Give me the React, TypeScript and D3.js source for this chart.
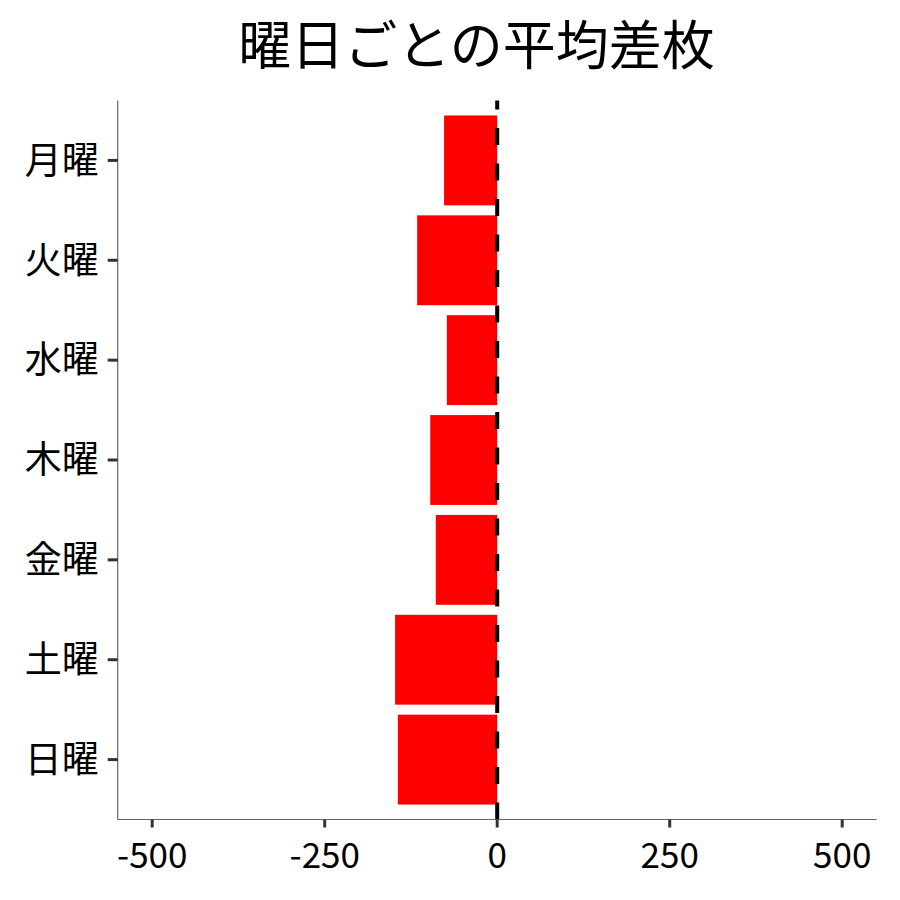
import * as d3 from "d3";

const DAYS = ["月曜", "火曜", "水曜", "木曜", "金曜", "土曜", "日曜"];
const AVG_DIFF = [-77, -116, -73, -97, -89, -148, -144];
const X_TICKS = [-500, -250, 0, 250, 500];

const W = 900;
const H = 900;
const FONT = '"Noto Sans CJK JP", "Noto Sans", sans-serif';

export default function App() {
  const left = 117.7;
  const right = 876.7;
  const top = 100.5;
  const bottom = 819.5;

  const x = d3.scaleLinear().domain([-550, 550]).range([left, right]);
  const y = d3
    .scaleBand<string>()
    .domain(DAYS)
    .range([top, bottom])
    .paddingInner(0.1)
    .paddingOuter(0.15);

  const rows = DAYS.map((day, i) => ({ day, value: AVG_DIFF[i] }));

  return (
    <div style={{ margin: -8 }}>
      <svg width={W} height={H} style={{ display: "block", background: "#fff" }}>
        <text
          x={476.5}
          y={65}
          textAnchor="middle"
          fontFamily={FONT}
          fontSize={53}
          fill="#000"
        >
          曜日ごとの平均差枚
        </text>

        {rows.map((d) => (
          <rect
            key={d.day}
            x={x(Math.min(0, d.value))}
            y={y(d.day) ?? 0}
            width={Math.abs(x(d.value) - x(0))}
            height={y.bandwidth()}
            fill="#ff0000"
          />
        ))}

        {/* zero reference line, drawn bottom up like ggplot */}
        <line
          x1={x(0)}
          x2={x(0)}
          y1={bottom}
          y2={top}
          stroke="#000"
          strokeWidth={4}
          strokeDasharray="17,18.5"
        />

        {/* axes */}
        <line x1={left} x2={left} y1={top} y2={bottom} stroke="#666" strokeWidth={1.2} />
        <line x1={left} x2={right} y1={bottom} y2={bottom} stroke="#666" strokeWidth={1.2} />

        {DAYS.map((day) => {
          const cy = (y(day) ?? 0) + y.bandwidth() / 2;
          return (
            <g key={day}>
              <line x1={left - 10} x2={left} y1={cy} y2={cy} stroke="#333" strokeWidth={3} />
              <text
                x={left - 19}
                y={cy}
                dy="0.36em"
                textAnchor="end"
                fontFamily={FONT}
                fontSize={37}
                fill="#000"
              >
                {day}
              </text>
            </g>
          );
        })}

        {X_TICKS.map((t) => (
          <g key={t}>
            <line x1={x(t)} x2={x(t)} y1={bottom} y2={bottom + 8} stroke="#333" strokeWidth={3} />
            <text
              x={x(t)}
              y={bottom + 48}
              textAnchor="middle"
              fontFamily={FONT}
              fontSize={35}
              fill="#000"
            >
              {t}
            </text>
          </g>
        ))}
      </svg>
    </div>
  );
}
